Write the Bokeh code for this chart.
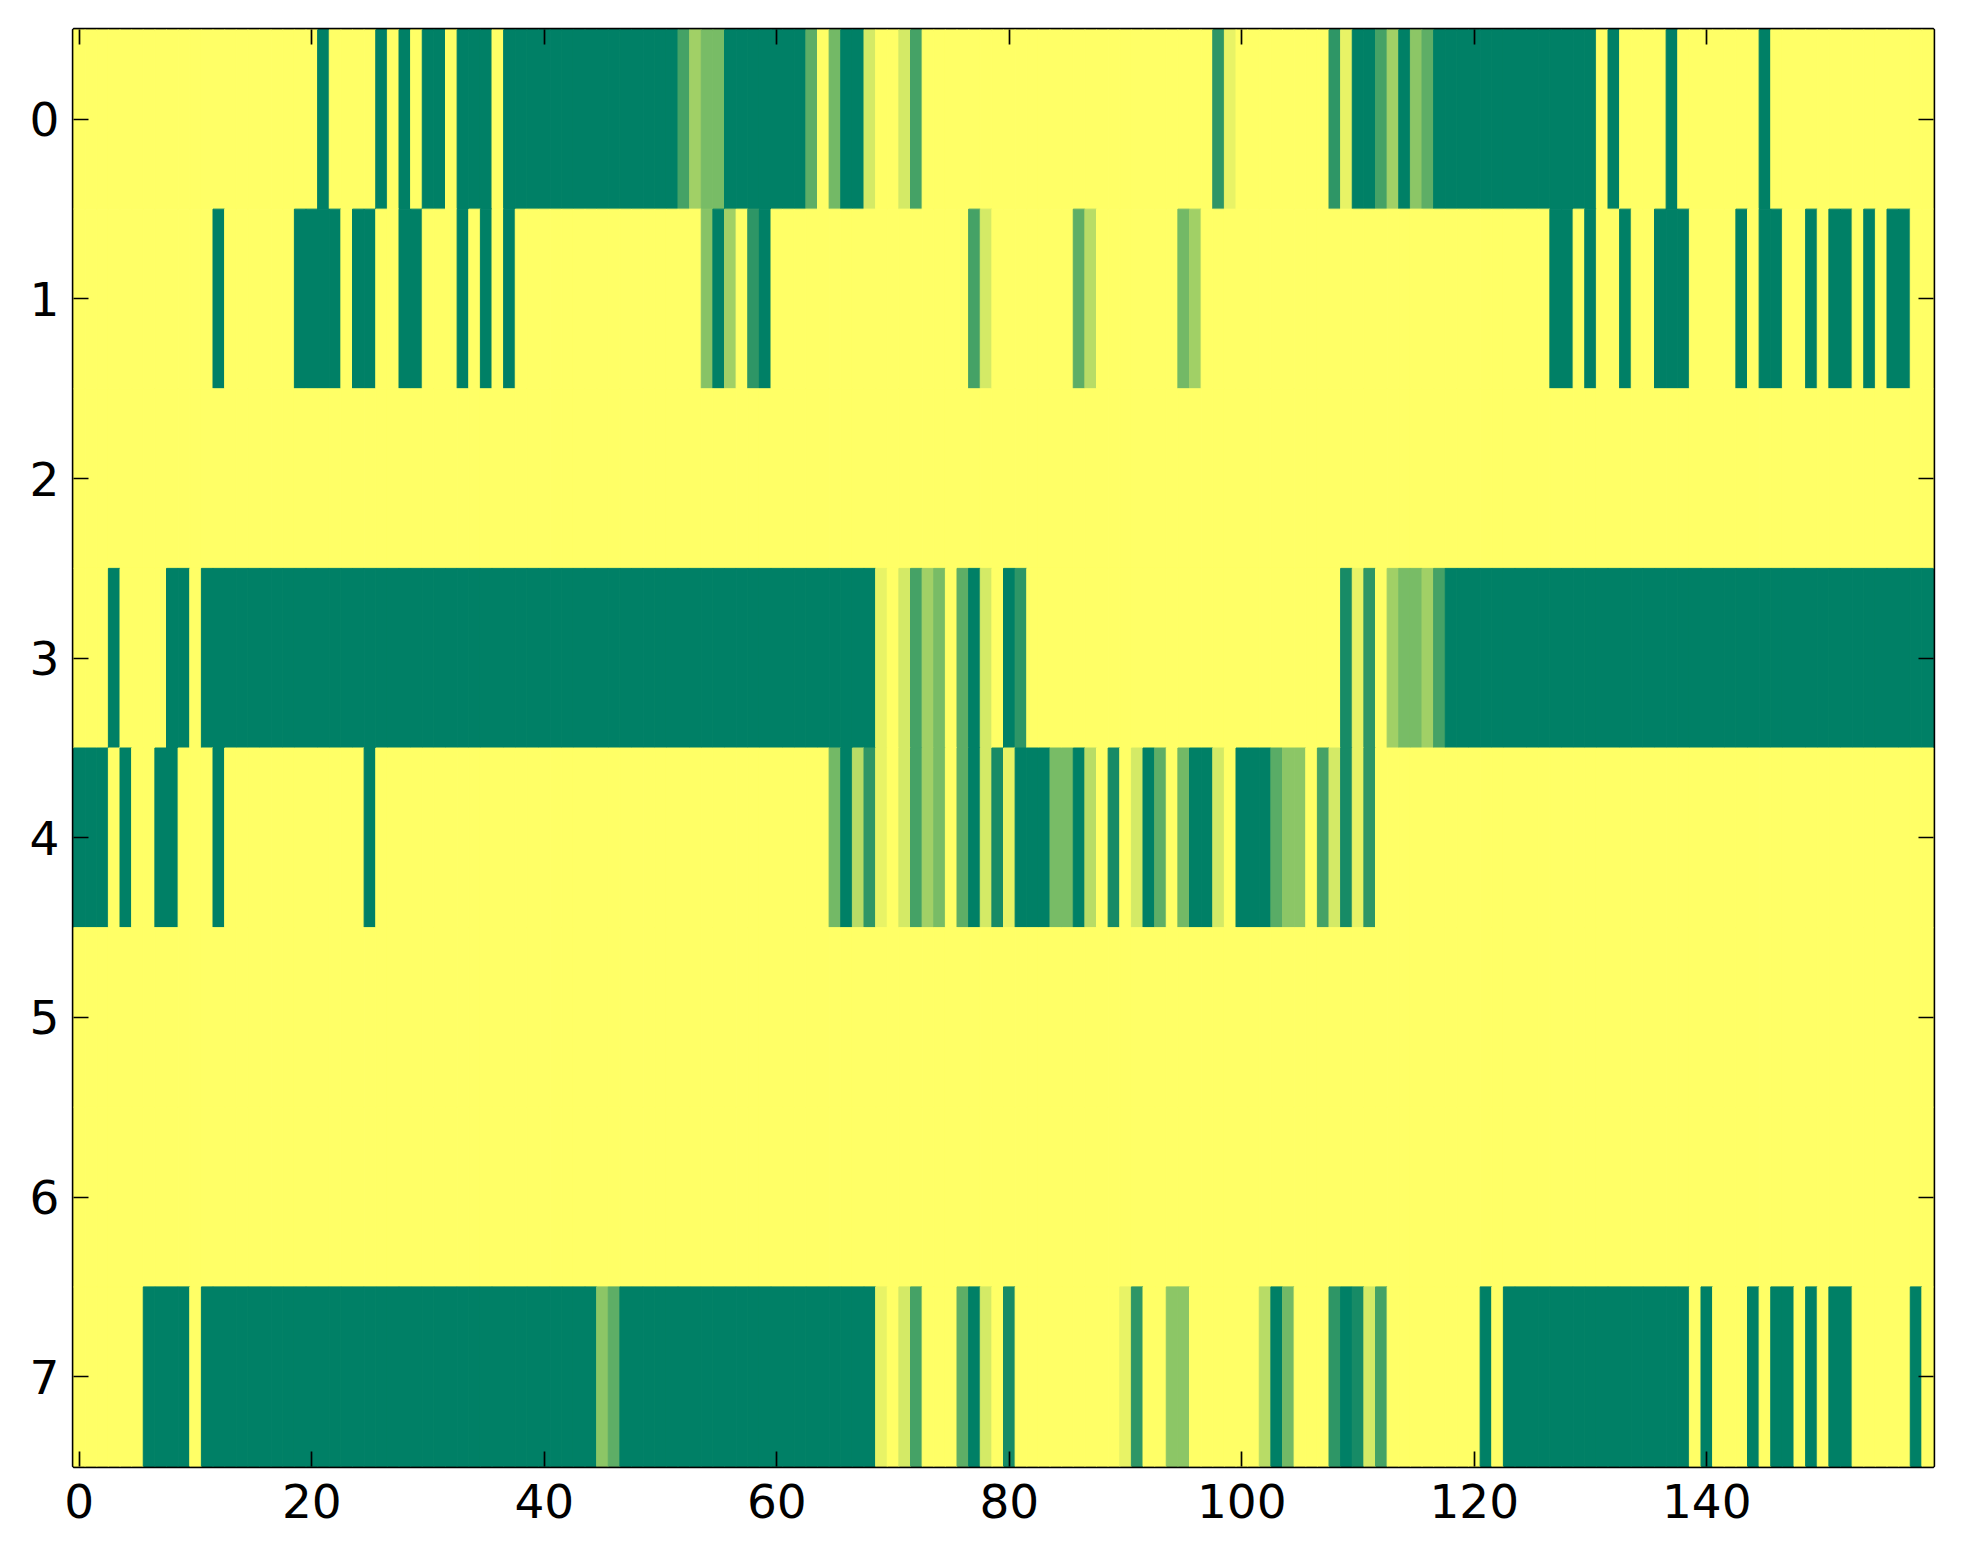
from bokeh.plotting import figure
from bokeh.models import Range1d, FixedTicker, LinearAxis, ColumnDataSource
from bokeh.transform import linear_cmap
from bokeh.embed import file_html
from bokeh.resources import INLINE

# ---------------- data ----------------
x_ticks = [0, 20, 40, 60, 80, 100, 120, 140]
y_ticks = [0, 1, 2, 3, 4, 5, 6, 7]
n_cols = 160

row0 = [0, 0, 0, 0, 0, 0, 0, 0, 0, 0,
        0, 0, 0, 0, 0, 0, 0, 0, 0, 0,
        0, 1, 0, 0, 0, 0, 1, 0, 1, 0,
        1, 1, 0, 1, 1, 1, 0, 1, 1, 1,
        1, 1, 1, 1, 1, 1, 1, 1, 1, 1,
        1, 1, .73, .37, .53, .53, 1, 1, 1, 1,
        1, 1, 1, .63, 0, .55, 1, 1, .17, 0,
        0, .17, .73, 0, 0, 0, 0, 0, 0, 0,
        0, 0, 0, 0, 0, 0, 0, 0, 0, 0,
        0, 0, 0, 0, 0, 0, 0, 0, .82, .09,
        0, 0, 0, 0, 0, 0, 0, 0, .82, .09,
        1, 1, .73, .37, 1, .45, .63, 1, 1, 1,
        1, 1, 1, 1, 1, 1, 1, 1, 1, 1,
        1, 0, 1, 0, 0, 0, 0, 1, 0, 0,
        0, 0, 0, 0, 0, 1, 0, 0, 0, 0,
        0, 0, 0, 0, 0, 0, 0, 0, 0, 0]

row1 = [0, 0, 0, 0, 0, 0, 0, 0, 0, 0,
        0, 0, 1, 0, 0, 0, 0, 0, 0, 1,
        1, 1, 1, 0, 1, 1, 0, 0, 1, 1,
        0, 0, 0, 1, 0, 1, 0, 1, 0, 0,
        0, 0, 0, 0, 0, 0, 0, 0, 0, 0,
        0, 0, 0, 0, .47, 1, .37, 0, .82, 1,
        0, 0, 0, 0, 0, 0, 0, 0, 0, 0,
        0, 0, 0, 0, 0, 0, 0, .73, .17, 0,
        0, 0, 0, 0, 0, 0, .63, .28, 0, 0,
        0, 0, 0, 0, 0, .55, .37, 0, 0, 0,
        0, 0, 0, 0, 0, 0, 0, 0, 0, 0,
        0, 0, 0, 0, 0, 0, 0, 0, 0, 0,
        0, 0, 0, 0, 0, 0, 0, 1, 1, 0,
        1, 0, 0, 1, 0, 0, 1, 1, 1, 0,
        0, 0, 0, 1, 0, 1, 1, 0, 0, 1,
        0, 1, 1, 0, 1, 0, 1, 1, 0, 0]

row2 = [0, 0, 0, 0, 0, 0, 0, 0, 0, 0,
        0, 0, 0, 0, 0, 0, 0, 0, 0, 0,
        0, 0, 0, 0, 0, 0, 0, 0, 0, 0,
        0, 0, 0, 0, 0, 0, 0, 0, 0, 0,
        0, 0, 0, 0, 0, 0, 0, 0, 0, 0,
        0, 0, 0, 0, 0, 0, 0, 0, 0, 0,
        0, 0, 0, 0, 0, 0, 0, 0, 0, 0,
        0, 0, 0, 0, 0, 0, 0, 0, 0, 0,
        0, 0, 0, 0, 0, 0, 0, 0, 0, 0,
        0, 0, 0, 0, 0, 0, 0, 0, 0, 0,
        0, 0, 0, 0, 0, 0, 0, 0, 0, 0,
        0, 0, 0, 0, 0, 0, 0, 0, 0, 0,
        0, 0, 0, 0, 0, 0, 0, 0, 0, 0,
        0, 0, 0, 0, 0, 0, 0, 0, 0, 0,
        0, 0, 0, 0, 0, 0, 0, 0, 0, 0,
        0, 0, 0, 0, 0, 0, 0, 0, 0, 0]

row3 = [0, 0, 0, 1, 0, 0, 0, 0, 1, 1,
        0, 1, 1, 1, 1, 1, 1, 1, 1, 1,
        1, 1, 1, 1, 1, 1, 1, 1, 1, 1,
        1, 1, 1, 1, 1, 1, 1, 1, 1, 1,
        1, 1, 1, 1, 1, 1, 1, 1, 1, 1,
        1, 1, 1, 1, 1, 1, 1, 1, 1, 1,
        1, 1, 1, 1, 1, 1, 1, 1, 1, .09,
        0, .17, .73, .37, .53, 0, .63, 1, .17, 0,
        1, .82, 0, 0, 0, 0, 0, 0, 0, 0,
        0, 0, 0, 0, 0, 0, 0, 0, 0, 0,
        0, 0, 0, 0, 0, 0, 0, 0, 0, .91,
        .09, .82, 0, .37, .53, .53, .37, .73, 1, 1,
        1, 1, 1, 1, 1, 1, 1, 1, 1, 1,
        1, 1, 1, 1, 1, 1, 1, 1, 1, 1,
        1, 1, 1, 1, 1, 1, 1, 1, 1, 1,
        1, 1, 1, 1, 1, 1, 1, 1, 1, 1]

row4 = [1, 1, 1, 0, 1, 0, 0, 1, 1, 0,
        0, 0, 1, 0, 0, 0, 0, 0, 0, 0,
        0, 0, 0, 0, 0, 1, 0, 0, 0, 0,
        0, 0, 0, 0, 0, 0, 0, 0, 0, 0,
        0, 0, 0, 0, 0, 0, 0, 0, 0, 0,
        0, 0, 0, 0, 0, 0, 0, 0, 0, 0,
        0, 0, 0, 0, 0, .55, 1, .28, .82, .09,
        0, .17, .73, .37, .53, 0, .63, 1, .17, .91,
        .09, 1, 1, 1, .53, .53, 1, .28, 0, .91,
        0, .17, 1, .63, 0, .55, 1, 1, .17, 0,
        1, 1, 1, .65, .45, .45, 0, .73, .17, .91,
        .09, .82, 0, 0, 0, 0, 0, 0, 0, 0,
        0, 0, 0, 0, 0, 0, 0, 0, 0, 0,
        0, 0, 0, 0, 0, 0, 0, 0, 0, 0,
        0, 0, 0, 0, 0, 0, 0, 0, 0, 0,
        0, 0, 0, 0, 0, 0, 0, 0, 0, 0]

row5 = [0, 0, 0, 0, 0, 0, 0, 0, 0, 0,
        0, 0, 0, 0, 0, 0, 0, 0, 0, 0,
        0, 0, 0, 0, 0, 0, 0, 0, 0, 0,
        0, 0, 0, 0, 0, 0, 0, 0, 0, 0,
        0, 0, 0, 0, 0, 0, 0, 0, 0, 0,
        0, 0, 0, 0, 0, 0, 0, 0, 0, 0,
        0, 0, 0, 0, 0, 0, 0, 0, 0, 0,
        0, 0, 0, 0, 0, 0, 0, 0, 0, 0,
        0, 0, 0, 0, 0, 0, 0, 0, 0, 0,
        0, 0, 0, 0, 0, 0, 0, 0, 0, 0,
        0, 0, 0, 0, 0, 0, 0, 0, 0, 0,
        0, 0, 0, 0, 0, 0, 0, 0, 0, 0,
        0, 0, 0, 0, 0, 0, 0, 0, 0, 0,
        0, 0, 0, 0, 0, 0, 0, 0, 0, 0,
        0, 0, 0, 0, 0, 0, 0, 0, 0, 0,
        0, 0, 0, 0, 0, 0, 0, 0, 0, 0]

row6 = [0, 0, 0, 0, 0, 0, 0, 0, 0, 0,
        0, 0, 0, 0, 0, 0, 0, 0, 0, 0,
        0, 0, 0, 0, 0, 0, 0, 0, 0, 0,
        0, 0, 0, 0, 0, 0, 0, 0, 0, 0,
        0, 0, 0, 0, 0, 0, 0, 0, 0, 0,
        0, 0, 0, 0, 0, 0, 0, 0, 0, 0,
        0, 0, 0, 0, 0, 0, 0, 0, 0, 0,
        0, 0, 0, 0, 0, 0, 0, 0, 0, 0,
        0, 0, 0, 0, 0, 0, 0, 0, 0, 0,
        0, 0, 0, 0, 0, 0, 0, 0, 0, 0,
        0, 0, 0, 0, 0, 0, 0, 0, 0, 0,
        0, 0, 0, 0, 0, 0, 0, 0, 0, 0,
        0, 0, 0, 0, 0, 0, 0, 0, 0, 0,
        0, 0, 0, 0, 0, 0, 0, 0, 0, 0,
        0, 0, 0, 0, 0, 0, 0, 0, 0, 0,
        0, 0, 0, 0, 0, 0, 0, 0, 0, 0]

row7 = [0, 0, 0, 0, 0, 0, 1, 1, 1, 1,
        0, 1, 1, 1, 1, 1, 1, 1, 1, 1,
        1, 1, 1, 1, 1, 1, 1, 1, 1, 1,
        1, 1, 1, 1, 1, 1, 1, 1, 1, 1,
        1, 1, 1, 1, 1, .45, .63, 1, 1, 1,
        1, 1, 1, 1, 1, 1, 1, 1, 1, 1,
        1, 1, 1, 1, 1, 1, 1, 1, 1, .09,
        0, .17, .73, 0, 0, 0, .63, 1, .17, 0,
        .91, 0, 0, 0, 0, 0, 0, 0, 0, 0,
        .09, .82, 0, 0, .45, .45, 0, 0, 0, 0,
        0, 0, .28, 1, .55, 0, 0, 0, .82, 1,
        .91, .17, .73, 0, 0, 0, 0, 0, 0, 0,
        0, 1, 0, 1, 1, 1, 1, 1, 1, 1,
        1, 1, 1, 1, 1, 1, 1, 1, 1, 0,
        1, 0, 0, 0, 1, 0, 1, 1, 0, 1,
        0, 1, 1, 0, 0, 0, 0, 0, 1, 0]

rows = [row0, row1, row2, row3, row4, row5, row6, row7]

# ---------------- colormap (matplotlib "summer_r") ----------------
def summer_r_palette(n=256):
    pal = []
    for i in range(n):
        v = 1.0 - i / (n - 1)
        r = int(round(v * 255))
        g = int(round((0.5 + 0.5 * v) * 255))
        b = int(round(0.4 * 255))
        pal.append("#%02x%02x%02x" % (r, g, b))
    return pal

palette = summer_r_palette()

xs, ys, vs = [], [], []
for r, row in enumerate(rows):
    for c, val in enumerate(row):
        xs.append(c)
        ys.append(r)
        vs.append(float(val))
source = ColumnDataSource(dict(x=xs, y=ys, v=vs))

# ---------------- figure ----------------
p = figure(frame_width=1860, frame_height=1437,
           x_range=Range1d(-0.5, n_cols - 0.5), y_range=Range1d(len(rows) - 0.5, -0.5),
           output_backend="svg", toolbar_location=None,
           min_border_left=73, min_border_right=22, min_border_top=29, min_border_bottom=88)

cmap = linear_cmap("v", palette, low=0, high=1)
p.rect(x="x", y="y", width=1, height=1, source=source,
       fill_color=cmap, line_color=cmap, line_width=1)

p.grid.visible = False
p.outline_line_color = "black"
p.outline_line_width = 3.4
p.background_fill_color = "white"
p.border_fill_color = "white"

FONT = "DejaVu Sans"
FS = "47px"

def style_axis(ax, ticks, labels=True, standoff=12):
    ax.ticker = FixedTicker(ticks=ticks)
    ax.axis_line_color = None
    ax.major_tick_in = 15
    ax.major_tick_out = 0
    ax.major_tick_line_width = 1.7
    ax.major_tick_line_color = "black"
    ax.minor_tick_line_color = None
    if labels:
        ax.major_label_text_font = FONT
        ax.major_label_text_font_size = FS
        ax.major_label_text_color = "black"
        ax.major_label_standoff = standoff
    else:
        ax.major_label_text_font_size = "0px"
        ax.major_label_text_color = None
        ax.major_label_standoff = 0

style_axis(p.xaxis[0], x_ticks, True, 17)
style_axis(p.yaxis[0], y_ticks, True, 14)

top_axis = LinearAxis()
style_axis(top_axis, x_ticks, False)
p.add_layout(top_axis, "above")

right_axis = LinearAxis()
style_axis(right_axis, y_ticks, False)
p.add_layout(right_axis, "right")

open("out.html", "w").write(file_html(p, INLINE))
